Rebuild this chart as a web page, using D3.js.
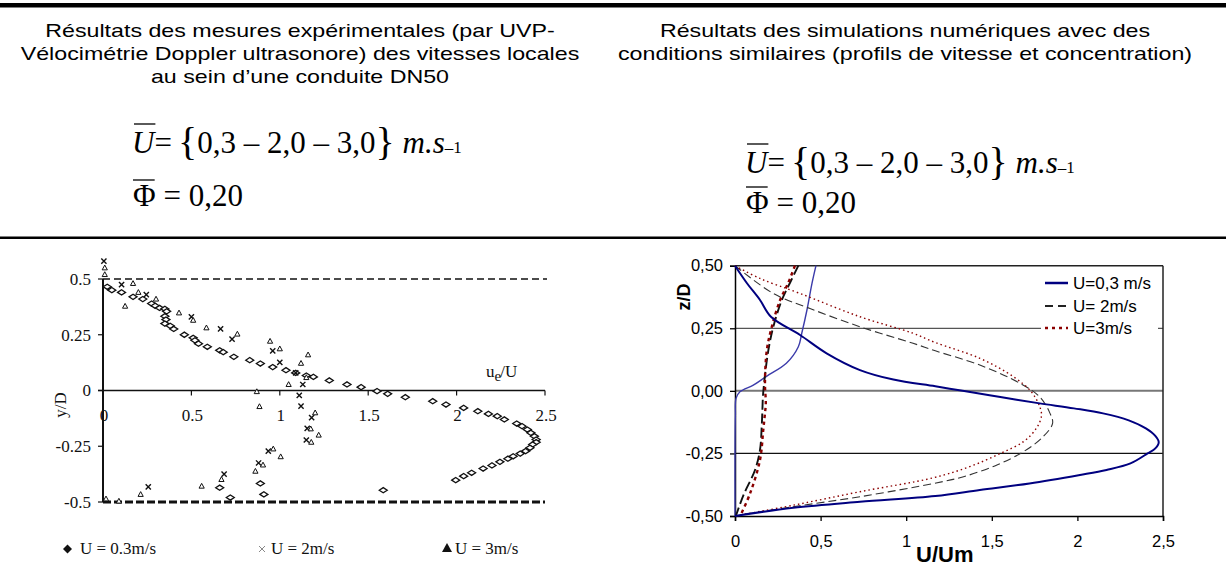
<!DOCTYPE html>
<html><head><meta charset="utf-8">
<script src="https://cdn.jsdelivr.net/npm/d3@7"></script>
<style>body{margin:0;background:#fff}svg{display:block}</style>
</head><body>
<svg id="c" width="1226" height="586"></svg>
<script>
// ---------- texts ----------
const headingLeft = ["Résultats des mesures expérimentales (par UVP-", "Vélocimétrie Doppler ultrasonore) des vitesses locales", "au sein d’une conduite DN50"];
const headingRight = ["Résultats des simulations numériques avec des", "conditions similaires (profils de vitesse et concentration)"];
const formulaVelocities = "0,3 – 2,0 – 3,0";
const formulaPhi = "0,20";

// ---------- experimental chart (left) ----------
const expXTicks = [0, 0.5, 1, 1.5, 2, 2.5];
const expXTickLabels = ["0", "0.5", "1", "1.5", "2", "2.5"];
const expYTicks = [0.5, 0.25, 0, -0.25, -0.5];
const expYTickLabels = ["0.5", "0.25", "0", "-0.25", "-0.5"];
const expLegend = ["U = 0.3m/s", "U = 2m/s", "U = 3m/s"];
// U = 0.3 m/s (open diamonds)  [u_e/U, y/D]
const expDiamonds = [[0.024,0.465],[0.05,0.45],[0.105,0.44],[0.17,0.42],[0.225,0.41],[0.275,0.39],[0.295,0.38],[0.32,0.37],[0.35,0.366],[0.36,0.355],[0.35,0.333],[0.356,0.318],[0.35,0.30],[0.38,0.29],[0.40,0.276],[0.46,0.25],[0.51,0.236],[0.52,0.225],[0.54,0.21],[0.59,0.196],[0.66,0.18],[0.68,0.172],[0.74,0.151],[0.83,0.136],[0.89,0.121],[0.96,0.105],[1.035,0.091],[1.09,0.079],[1.15,0.067],[1.19,0.061],[1.28,0.045],[1.38,0.027],[1.46,0.015],[1.55,-0.003],[1.61,-0.015],[1.71,-0.03],[1.865,-0.048],[1.94,-0.063],[2.04,-0.078],[2.12,-0.093],[2.18,-0.105],[2.23,-0.115],[2.27,-0.13],[2.34,-0.148],[2.37,-0.16],[2.40,-0.175],[2.42,-0.19],[2.44,-0.205],[2.45,-0.22],[2.45,-0.232],[2.43,-0.242],[2.415,-0.257],[2.39,-0.272],[2.36,-0.283],[2.32,-0.295],[2.29,-0.306],[2.245,-0.32],[2.20,-0.336],[2.15,-0.35],[2.085,-0.369],[2.04,-0.384],[1.995,-0.402],[1.585,-0.447],[0.66,-0.436],[0.72,-0.48],[0.89,-0.417],[0.91,-0.466]];
// U = 2 m/s (crosses)
const expCrosses = [[0.005,0.58],[0.105,0.475],[0.245,0.43],[0.50,0.33],[0.665,0.276],[0.73,0.23],[0.96,0.178],[1.0,0.126],[1.09,0.079],[1.13,0.027],[1.11,-0.022],[1.12,-0.07],[1.18,-0.122],[1.155,-0.17],[1.15,-0.222],[0.935,-0.272],[0.88,-0.325],[0.685,-0.375],[0.256,-0.432]];
// U = 3 m/s (open triangles)
const expTriangles = [[0.01,0.55],[0.01,0.52],[0.17,0.48],[0.2,0.44],[0.125,0.378],[0.30,0.41],[0.43,0.348],[0.51,0.315],[0.585,0.281],[0.76,0.253],[0.945,0.221],[1.0,0.187],[1.16,0.16],[1.12,0.122],[1.15,0.058],[1.05,0.027],[0.87,-0.005],[0.885,-0.072],[1.2,-0.1],[1.175,-0.172],[1.22,-0.2],[1.178,-0.232],[0.963,-0.262],[1.005,-0.297],[0.905,-0.334],[0.862,-0.362],[0.67,-0.399],[0.558,-0.429],[0.213,-0.466],[0.09,-0.496],[0.017,-0.486]];

// ---------- simulation chart (right) ----------
const simXTicks = [0, 0.5, 1, 1.5, 2, 2.5];
const simXTickLabels = ["0", "0,5", "1", "1,5", "2", "2,5"];
const simYTicks = [-0.5, -0.25, 0, 0.25, 0.5];
const simYTickLabels = ["-0,50", "-0,25", "0,00", "0,25", "0,50"];
const simGrid = [-0.25, 0, 0.25];
const simLegend = ["U=0,3 m/s", "U= 2m/s", "U=3m/s"];
// [U/Um, z/D]
const sim03Velocity = [[0,0.5],[0.07,0.43],[0.146,0.363],[0.21,0.296],[0.38,0.223],[0.535,0.15],[0.73,0.083],[0.925,0.045],[1.17,0.018],[1.33,0.0],[1.55,-0.025],[1.78,-0.05],[1.98,-0.07],[2.15,-0.09],[2.3,-0.118],[2.40,-0.15],[2.455,-0.18],[2.475,-0.205],[2.455,-0.23],[2.41,-0.25],[2.31,-0.29],[2.17,-0.316],[2.015,-0.336],[1.72,-0.37],[1.43,-0.396],[1.17,-0.42],[0.73,-0.443],[0.34,-0.467],[0,-0.5]];
const sim03Concentration = [[0.473,0.5],[0.45,0.43],[0.42,0.322],[0.39,0.23],[0.37,0.176],[0.30,0.11],[0.186,0.059],[0.107,0.023],[0.03,-0.003],[0.006,-0.03],[0.002,-0.1],[0,-0.25],[0,-0.5]];
const sim2Velocity = [[0,0.5],[0.224,0.389],[0.438,0.329],[0.73,0.256],[1.04,0.19],[1.17,0.16],[1.43,0.103],[1.665,0.03],[1.78,-0.024],[1.84,-0.09],[1.855,-0.13],[1.80,-0.183],[1.685,-0.243],[1.53,-0.296],[1.335,-0.343],[1.16,-0.37],[0.73,-0.423],[0.34,-0.463],[0,-0.5]];
const sim2Concentration = [[0.37,0.5],[0.32,0.43],[0.273,0.362],[0.224,0.256],[0.195,0.163],[0.17,0.03],[0.163,-0.024],[0.16,-0.077],[0.156,-0.143],[0.146,-0.236],[0.117,-0.316],[0.05,-0.416],[0.005,-0.5]];
const sim3Velocity = [[0,0.5],[0.146,0.449],[0.38,0.389],[0.73,0.296],[1.04,0.23],[1.17,0.193],[1.43,0.13],[1.625,0.057],[1.73,-0.003],[1.78,-0.063],[1.79,-0.1],[1.76,-0.15],[1.685,-0.203],[1.55,-0.25],[1.37,-0.303],[1.16,-0.347],[0.73,-0.403],[0.34,-0.457],[0,-0.5]];
const sim3Concentration = [[0.35,0.5],[0.31,0.43],[0.263,0.362],[0.215,0.256],[0.186,0.163],[0.175,0.03],[0.18,-0.05],[0.175,-0.09],[0.165,-0.157],[0.146,-0.276],[0.088,-0.41],[0.03,-0.5]];

// ---------- drawing ----------
const SANS = "'Liberation Sans', Arial, sans-serif";
const SERIF = "'Liberation Serif', 'Times New Roman', serif";
const svg = d3.select("#c");
svg.append("rect").attr("width",1226).attr("height",586).attr("fill","#fff");

// rules
svg.append("rect").attr("x",0).attr("y",3).attr("width",1226).attr("height",4.5).attr("fill","#000");
svg.append("rect").attr("x",0).attr("y",236.5).attr("width",1226).attr("height",2.5).attr("fill","#000");

// headings (horizontally stretched as in the slide)
function heading(lines, cx, y0) {
  lines.forEach((s, i) => {
    svg.append("text")
      .attr("transform", `translate(${cx},${y0 + i*23}) scale(1.29,1)`)
      .attr("text-anchor","middle").attr("font-family",SANS).attr("font-size",18)
      .attr("fill","#000").text(s);
  });
}
heading(headingLeft, 300, 37);
heading(headingRight, 905, 37);

function formulaU(x, y) {
  const t = svg.append("text").attr("x",x).attr("y",y).attr("font-family",SERIF).attr("font-size",31).attr("fill","#000");
  t.append("tspan").attr("font-style","italic").text("U");
  t.append("tspan").text("=\u2009");
  t.append("tspan").attr("font-size",40).attr("dy",2).text("{");
  t.append("tspan").attr("dy",-2).text(formulaVelocities);
  t.append("tspan").attr("font-size",40).attr("dy",2).text("}");
  t.append("tspan").attr("dy",-2).attr("font-style","italic").text(" m.s");
  t.append("tspan").attr("font-size",17).text("–1");
  const uw = t.node().getSubStringLength(0,1);
  svg.append("line").attr("x1",x+2).attr("x2",x+uw+1).attr("y1",y-29).attr("y2",y-29)
    .attr("stroke","#000").attr("stroke-width",1.3);
}
function formulaPhiF(x, y) {
  const t = svg.append("text").attr("x",x).attr("y",y).attr("font-family",SERIF).attr("font-size",31).attr("fill","#000");
  t.append("tspan").text("Φ");
  t.append("tspan").text(" = " + formulaPhi);
  const w = t.node().getSubStringLength(0,1);
  svg.append("line").attr("x1",x).attr("x2",x+w-1).attr("y1",y-26).attr("y2",y-26)
    .attr("stroke","#000").attr("stroke-width",1.3);
}
formulaU(132, 153);
formulaPhiF(133, 206);
formulaU(745, 173);
formulaPhiF(746, 213);

// ===== Left chart =====
const xL = d3.scaleLinear().domain([0,2.5]).range([103,545]);
const yL = d3.scaleLinear().domain([-0.5,0.5]).range([502,279]);
const L = svg.append("g");
const ink = "#111";
// reference dashed lines
L.append("line").attr("x1",xL(0)).attr("x2",xL(2.5)+2).attr("y1",yL(0.5)).attr("y2",yL(0.5))
  .attr("stroke",ink).attr("stroke-width",1.4).attr("stroke-dasharray","7,4");
L.append("line").attr("x1",xL(0)).attr("x2",xL(2.5)).attr("y1",yL(-0.5)).attr("y2",yL(-0.5))
  .attr("stroke",ink).attr("stroke-width",3).attr("stroke-dasharray","8,3");
// axes
L.append("line").attr("x1",xL(0)).attr("x2",xL(0)).attr("y1",yL(0.5)).attr("y2",yL(-0.5))
  .attr("stroke",ink).attr("stroke-width",2);
L.append("line").attr("x1",xL(0)-5).attr("x2",xL(2.5)).attr("y1",yL(0)).attr("y2",yL(0))
  .attr("stroke",ink).attr("stroke-width",1.6);
expYTicks.forEach((v,i) => {
  L.append("line").attr("x1",xL(0)-5).attr("x2",xL(0)).attr("y1",yL(v)).attr("y2",yL(v)).attr("stroke",ink).attr("stroke-width",1.2);
  L.append("text").attr("x",91).attr("y",yL(v)).attr("dy","0.35em").attr("text-anchor","end")
    .attr("font-family",SERIF).attr("font-size",17).attr("fill",ink).text(expYTickLabels[i]);
});
expXTicks.forEach((v,i) => {
  if (v > 0) L.append("line").attr("x1",xL(v)).attr("x2",xL(v)).attr("y1",yL(0)).attr("y2",yL(0)+5).attr("stroke",ink).attr("stroke-width",1.2);
  L.append("text").attr("x",xL(v)+1).attr("y",421).attr("text-anchor","middle")
    .attr("font-family",SERIF).attr("font-size",17).attr("fill",ink).text(expXTickLabels[i]);
});
L.append("text").attr("transform","translate(66,405) rotate(-90)").attr("text-anchor","middle")
  .attr("font-family",SERIF).attr("font-size",17).attr("fill",ink).text("y/D");
const ue = L.append("text").attr("x",486).attr("y",377).attr("font-family",SERIF).attr("font-size",17).attr("fill",ink);
ue.append("tspan").text("u");
ue.append("tspan").attr("font-size",15).attr("dy",4).text("e");
ue.append("tspan").attr("dy",-4).attr("dx",-1).text("/U");

// markers
L.selectAll(".dia").data(expDiamonds).join("path")
  .attr("d", d => { const x=xL(d[0]), y=yL(d[1]); return `M${x-4},${y}L${x},${y-2.6}L${x+4},${y}L${x},${y+2.6}Z`; })
  .attr("fill","#fff").attr("stroke",ink).attr("stroke-width",1.3);
L.selectAll(".crs").data(expCrosses).join("path")
  .attr("d", d => { const x=xL(d[0]), y=yL(d[1]); return `M${x-2.6},${y-2.6}L${x+2.6},${y+2.6}M${x+2.6},${y-2.6}L${x-2.6},${y+2.6}`; })
  .attr("fill","none").attr("stroke",ink).attr("stroke-width",1.4);
L.selectAll(".tri").data(expTriangles).join("path")
  .attr("d", d => { const x=xL(d[0]), y=yL(d[1]); return `M${x},${y-2.8}L${x+2.6},${y+2}L${x-2.6},${y+2}Z`; })
  .attr("fill","#fff").attr("stroke",ink).attr("stroke-width",1);

// legend left
const lgY = 554;
L.append("path").attr("d",`M63,${lgY-5}L67.5,${lgY-9.5}L72,${lgY-5}L67.5,${lgY-0.5}Z`).attr("fill",ink);
L.append("text").attr("x",80).attr("y",lgY).attr("font-family",SERIF).attr("font-size",17).attr("fill",ink).text(expLegend[0]);
L.append("path").attr("d",`M259,${lgY-8}L265,${lgY-2}M265,${lgY-8}L259,${lgY-2}`).attr("stroke","#888").attr("stroke-width",1);
L.append("text").attr("x",271).attr("y",lgY).attr("font-family",SERIF).attr("font-size",17).attr("fill",ink).text(expLegend[1]);
L.append("path").attr("d",`M447,${lgY-11}L452,${lgY-2}L442,${lgY-2}Z`).attr("fill",ink);
L.append("text").attr("x",455).attr("y",lgY).attr("font-family",SERIF).attr("font-size",17).attr("fill",ink).text(expLegend[2]);

// ===== Right chart =====
const xR = d3.scaleLinear().domain([0,2.5]).range([735,1163]);
const yR = d3.scaleLinear().domain([-0.5,0.5]).range([516,265.7]);
const R = svg.append("g");
simGrid.forEach(v => {
  R.append("line").attr("x1",xR(0)).attr("x2",xR(2.5)).attr("y1",yR(v)).attr("y2",yR(v))
    .attr("stroke", v===0 ? "#777" : (v>0 ? "#555" : "#111")).attr("stroke-width", v===0 ? 2 : 1.3);
});
// plot frame
R.append("line").attr("x1",xR(0)).attr("x2",xR(2.5)).attr("y1",yR(0.5)).attr("y2",yR(0.5)).attr("stroke","#222").attr("stroke-width",1.5);
R.append("line").attr("x1",xR(2.5)).attr("x2",xR(2.5)).attr("y1",yR(0.5)).attr("y2",yR(-0.5)).attr("stroke","#222").attr("stroke-width",1.5);

const ax = R.append("g").attr("transform",`translate(${xR(0)},0)`)
  .call(d3.axisLeft(yR).tickValues(simYTicks).tickFormat((d,i)=>simYTickLabels[i]).tickSize(5).tickPadding(7));
const bx = R.append("g").attr("transform",`translate(0,${yR(-0.5)})`)
  .call(d3.axisBottom(xR).tickValues(simXTicks).tickFormat((d,i)=>simXTickLabels[i]).tickSize(5).tickPadding(14));
[ax,bx].forEach(a => {
  a.select(".domain").attr("stroke","#000").attr("stroke-width",1.5);
  a.selectAll(".tick line").attr("stroke","#000").attr("stroke-width",1.3);
  a.selectAll("text").attr("font-family",SANS).attr("font-size",16.5).attr("fill","#000");
});

R.append("text").attr("transform","translate(690,297) rotate(-90)").attr("text-anchor","middle")
  .attr("font-family",SANS).attr("font-weight","bold").attr("font-size",18).text("z/D");
R.append("text").attr("x",916).attr("y",562).attr("font-family",SANS).attr("font-weight","bold").attr("font-size",22).text("U/Um");

const line = d3.line().x(d=>xR(d[0])).y(d=>yR(d[1])).curve(d3.curveCatmullRom.alpha(0.5));
const curves = [
  {d: sim03Concentration, c:"#3b3baa", w:1.4, dash:null},
  {d: sim2Velocity, c:"#333", w:1.1, dash:"8,4"},
  {d: sim3Velocity, c:"#8b0000", w:1.4, dash:"1.5,3"},
  {d: sim2Concentration, c:"#111", w:1.9, dash:"10,4"},
  {d: sim3Concentration, c:"#8b0000", w:2.4, dash:"3.5,3.5"},
  {d: sim03Velocity, c:"#000080", w:2, dash:null},
];
curves.forEach(k => {
  R.append("path").attr("d", line(k.d)).attr("fill","none").attr("stroke",k.c)
    .attr("stroke-width",k.w).attr("stroke-dasharray",k.dash);
});

// legend right
R.append("rect").attr("x",1041).attr("y",272).attr("width",117).attr("height",64).attr("fill","#fff");
const lgStyles = [{c:"#000080",w:2.5,dash:null},{c:"#222",w:2,dash:"8,5"},{c:"#8b0000",w:2.5,dash:"3,4"}];
[283, 306, 328].forEach((yy,i) => {
  R.append("line").attr("x1",1045).attr("x2",1068).attr("y1",yy).attr("y2",yy)
    .attr("stroke",lgStyles[i].c).attr("stroke-width",lgStyles[i].w).attr("stroke-dasharray",lgStyles[i].dash);
  R.append("text").attr("x",1073).attr("y",yy+6).attr("font-family",SANS).attr("font-size",17).attr("fill","#000").text(simLegend[i]);
});
</script>
</body></html>
